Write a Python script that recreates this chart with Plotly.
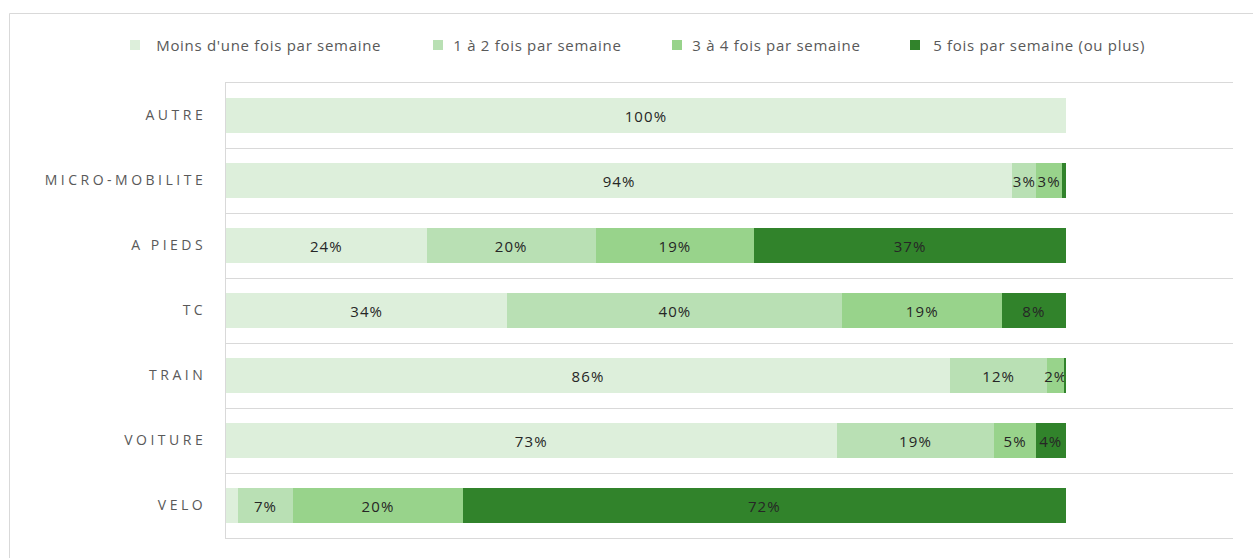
import plotly.graph_objects as go

# Transport modes, top to bottom
modes = ["AUTRE", "MICRO-MOBILITE", "A PIEDS", "TC", "TRAIN", "VOITURE", "VELO"]

# Share of respondents (%) by frequency of use
moins_une_fois = [100.0, 93.6, 23.9, 33.5, 86.2, 72.7, 1.4]
une_a_deux = [0.0, 2.9, 20.1, 39.9, 11.6, 18.8, 6.6]
trois_a_quatre = [0.0, 3.0, 18.9, 19.0, 2.0, 4.9, 20.2]
cinq_et_plus = [0.0, 0.5, 37.1, 7.6, 0.2, 3.6, 71.8]

series_names = [
    "Moins d'une fois par semaine",
    "1 à 2 fois par semaine",
    "3 à 4 fois par semaine",
    "5 fois par semaine (ou plus)",
]
series_values = [moins_une_fois, une_a_deux, trois_a_quatre, cinq_et_plus]
colors = ["#DDEFDB", "#B9E0B4", "#98D38B", "#31832B"]

FONT = "Open Sans"

fig = go.Figure()
for name, vals, col in zip(series_names, series_values, colors):
    labels = [f"{round(v):d}%" if v >= 1.5 else "" for v in vals]
    fig.add_trace(go.Bar(
        y=modes,
        x=vals,
        name=name,
        orientation="h",
        marker=dict(color=col, line=dict(width=0)),
        text=labels,
        textposition="inside",
        insidetextanchor="middle",
        textangle=0,
        textfont=dict(family=FONT, size=15, color="#262626"),
        hoverinfo="skip",
        showlegend=False,
    ))

# plot area: x 226..1233, y 83..538 (page px)
L, R, T, B = 226, 20, 83, 20
W, H = 1253, 558
pw, ph = W - L - R, H - T - B


def px_x(px):
    return (px - L) / pw


def px_y(py):
    return (H - B - py) / ph


# legend row: colour key square and centred label per series
legend_square_x = [130, 433, 672, 910]
legend_text_center = [268, 537, 776, 1039]
legend_y = 45

shapes = [
    # outer chart frame
    dict(
        type="rect", xref="paper", yref="paper",
        x0=px_x(9.5), x1=px_x(1270), y0=px_y(575), y1=px_y(13.5),
        line=dict(color="#D9D9D9", width=1),
        fillcolor="rgba(0,0,0,0)",
        layer="below",
    ),
]
annotations = []
for name, col, sx, tx in zip(series_names, colors, legend_square_x, legend_text_center):
    shapes.append(dict(
        type="rect", xref="paper", yref="paper",
        x0=px_x(sx), x1=px_x(sx + 10),
        y0=px_y(legend_y + 5), y1=px_y(legend_y - 5),
        line=dict(width=0), fillcolor=col,
    ))
    annotations.append(dict(
        xref="paper", yref="paper",
        x=px_x(tx), y=px_y(legend_y),
        xanchor="center", yanchor="middle",
        text=name, showarrow=False,
        font=dict(family=FONT, size=15, color="#595959"),
    ))

fig.update_layout(
    width=W,
    height=H,
    barmode="stack",
    bargap=0.46,
    margin=dict(l=L, r=R, t=T, b=B, pad=0),
    paper_bgcolor="white",
    plot_bgcolor="white",
    font=dict(family=FONT, size=14, color="#595959"),
    uniformtext=dict(minsize=15, mode="show"),
    showlegend=False,
    xaxis=dict(
        range=[0, 119.9],
        showgrid=False,
        zeroline=False,
        showticklabels=False,
        ticks="",
        showline=True,
        mirror=True,
        linecolor="#D9D9D9",
        linewidth=1,
        fixedrange=True,
    ),
    yaxis=dict(
        type="category",
        categoryorder="array",
        categoryarray=modes,
        autorange="reversed",
        tickson="boundaries",
        showgrid=True,
        gridcolor="#D9D9D9",
        gridwidth=1,
        showline=True,
        linecolor="#D9D9D9",
        linewidth=1,
        ticks="",
        ticklabelstandoff=16,
        tickfont=dict(family=FONT, size=14, color="#595959"),
        fixedrange=True,
    ),
    shapes=shapes,
    annotations=annotations,
)

# letter spacing for category labels, data labels and legend labels
post = """
var gd = document.getElementById('{plot_id}');
function spaceText(){
  gd.querySelectorAll('.ytick text').forEach(function(t){
    t.setAttribute('letter-spacing', '3.5px');
  });
  gd.querySelectorAll('text.bartext').forEach(function(t){
    t.setAttribute('letter-spacing', '1.1px');
  });
  gd.querySelectorAll('text.annotation-text').forEach(function(t){
    t.setAttribute('letter-spacing', '0.7px');
  });
}
spaceText();
gd.on('plotly_afterplot', spaceText);
"""

fig.write_html("out.html", post_script=post, config={"displayModeBar": False})
